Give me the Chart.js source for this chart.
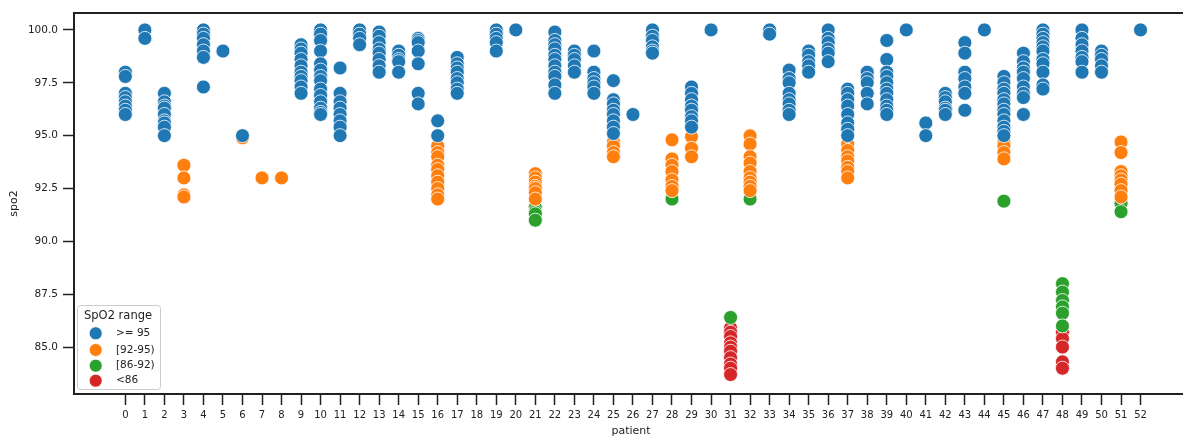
<!DOCTYPE html>
<html>
<head>
<meta charset="utf-8">
<script src="https://cdn.jsdelivr.net/npm/chart.js@4.4.1/dist/chart.umd.min.js"></script>
<style>
  html, body { margin: 0; padding: 0; background: #fff; overflow: hidden; }
  #wrap { width: 1188px; height: 436px; position: relative; }
</style>
</head>
<body>
<div id="wrap"><canvas id="graphique"></canvas></div>
<script>
// tick labels
const patientTicks = [0, 1, 2, 3, 4, 5, 6, 7, 8, 9, 10, 11, 12, 13, 14, 15, 16, 17, 18, 19, 20,
  21, 22, 23, 24, 25, 26, 27, 28, 29, 30, 31, 32, 33, 34, 35, 36, 37, 38, 39, 40, 41, 42, 43,
  44, 45, 46, 47, 48, 49, 50, 51, 52];
const spo2Ticks = [85, 87.5, 90, 92.5, 95, 97.5, 100];

// [patient, spo2 readings] per range
const rangeHigh = [
  [0, [98.0, 97.8, 97.0, 96.8, 96.6, 96.4, 96.2, 96.0]],
  [1, [100.0, 99.6]],
  [2, [97.0, 96.6, 96.4, 96.3, 96.0, 95.7, 95.6, 95.4, 95.0]],
  [4, [100.0, 99.8, 99.6, 99.3, 99.0, 98.7, 97.3]],
  [5, [99.0]],
  [6, [95.0]],
  [9, [99.3, 99.1, 98.9, 98.6, 98.3, 98.0, 97.8, 97.6, 97.3, 97.0]],
  [10, [100.0, 99.8, 99.5, 99.0, 98.4, 98.1, 97.8, 97.6, 97.2, 96.9, 96.6, 96.3, 96.1, 96.0]],
  [11, [98.2, 97.0, 96.6, 96.3, 96.0, 95.7, 95.4, 95.0]],
  [12, [100.0, 99.8, 99.6, 99.3]],
  [13, [99.9, 99.7, 99.4, 99.1, 98.9, 98.6, 98.3, 98.0]],
  [14, [99.0, 98.8, 98.6, 98.5, 98.0]],
  [15, [99.6, 99.5, 99.4, 99.0, 98.4, 97.0, 96.5]],
  [16, [95.7, 95.0]],
  [17, [98.7, 98.4, 98.2, 98.0, 97.7, 97.5, 97.2, 97.0]],
  [19, [100.0, 99.8, 99.6, 99.4, 99.0]],
  [20, [100.0]],
  [22, [99.9, 99.5, 99.3, 99.1, 98.8, 98.6, 98.3, 98.0, 97.8, 97.4, 97.0]],
  [23, [99.0, 98.8, 98.6, 98.3, 98.0]],
  [24, [99.0, 98.0, 97.7, 97.5, 97.3, 97.0]],
  [25, [97.6, 96.7, 96.5, 96.2, 96.0, 95.7, 95.4, 95.1]],
  [26, [96.0]],
  [27, [100.0, 99.7, 99.5, 99.2, 99.0, 98.9]],
  [29, [97.3, 97.0, 96.7, 96.4, 96.2, 95.9, 95.7, 95.4]],
  [30, [100.0]],
  [33, [100.0, 99.8]],
  [34, [98.1, 97.7, 97.5, 97.0, 96.7, 96.5, 96.2, 96.0]],
  [35, [99.0, 98.8, 98.5, 98.3, 98.0]],
  [36, [100.0, 99.6, 99.4, 99.1, 98.9, 98.5]],
  [37, [97.2, 97.0, 96.7, 96.4, 96.0, 95.6, 95.3, 95.0]],
  [38, [98.0, 97.7, 97.5, 97.0, 96.5]],
  [39, [99.5, 98.6, 98.0, 97.8, 97.5, 97.2, 97.0, 96.7, 96.4, 96.2, 96.0]],
  [40, [100.0]],
  [41, [95.6, 95.0]],
  [42, [97.0, 96.8, 96.6, 96.3, 96.2, 96.0]],
  [43, [99.4, 98.9, 98.0, 97.7, 97.3, 97.0, 96.2]],
  [44, [100.0]],
  [45, [97.8, 97.5, 97.2, 97.0, 96.7, 96.5, 96.2, 96.0, 95.7, 95.4, 95.2, 95.0]],
  [46, [98.9, 98.5, 98.2, 98.0, 97.7, 97.3, 97.0, 96.8, 96.0]],
  [47, [100.0, 99.8, 99.6, 99.4, 99.2, 99.0, 98.6, 98.4, 98.0, 97.4, 97.2]],
  [49, [100.0, 99.6, 99.3, 99.0, 98.7, 98.5, 98.0]],
  [50, [99.0, 98.8, 98.6, 98.3, 98.0]],
  [52, [100.0]]
];
const rangeMid = [
  [3, [93.6, 93.0, 92.2, 92.1]],
  [6, [94.9]],
  [7, [93.0]],
  [8, [93.0]],
  [16, [94.5, 94.2, 94.0, 93.6, 93.4, 93.1, 92.8, 92.5, 92.2, 92.0]],
  [21, [93.2, 93.0, 92.8, 92.6, 92.5, 92.3, 92.0]],
  [25, [94.7, 94.5, 94.2, 94.0]],
  [28, [94.8, 93.9, 93.6, 93.3, 92.9, 92.6, 92.4]],
  [29, [94.95, 94.4, 94.0]],
  [32, [94.99, 94.6, 94.0, 93.7, 93.3, 93.0, 92.8, 92.6, 92.4]],
  [37, [94.6, 94.3, 94.0, 93.8, 93.5, 93.3, 93.0]],
  [45, [94.7, 94.5, 94.2, 93.9]],
  [51, [94.7, 94.2, 93.3, 93.1, 92.9, 92.7, 92.4, 92.1]]
];
const rangeLow = [
  [21, [91.6, 91.4, 91.3, 91.0]],
  [28, [92.0]],
  [31, [86.4]],
  [32, [92.0]],
  [45, [91.9]],
  [48, [88.0, 87.6, 87.2, 86.9, 86.6, 86.0]],
  [51, [91.8, 91.4]]
];
const rangeCritical = [
  [31, [85.9, 85.7, 85.5, 85.2, 85.0, 84.8, 84.5, 84.2, 84.0, 83.7]],
  [48, [85.7, 85.4, 85.0, 84.3, 84.0]]
];

const rangeLabels = ['>= 95', '[92-95)', '[86-92)', '<86'];
const rangeColors = ['#1f77b4', '#ff7f0e', '#2ca02c', '#d62728'];

const police = 'DejaVu Sans, sans-serif';
const encre = '#222';

function enPoints(groupes) {
  return groupes.flatMap(([p, vals]) => vals.map(v => ({ x: p, y: v })));
}

// ligne du haut du cadre (Chart.js ne la trace pas)
const cadreHaut = {
  id: 'cadreHaut',
  afterDraw(chart) {
    const { ctx, chartArea } = chart;
    ctx.save();
    ctx.strokeStyle = encre;
    ctx.lineWidth = 2;
    ctx.beginPath();
    ctx.moveTo(chartArea.left - 1, chartArea.top);
    ctx.lineTo(chartArea.right, chartArea.top);
    ctx.stroke();
    ctx.restore();
  }
};

// légende dans le coin bas gauche, façon seaborn
const legendeInterne = {
  id: 'legendeInterne',
  afterDraw(chart) {
    const ctx = chart.ctx;
    ctx.save();
    const x = 77.5, y = 305.5, w = 83, h = 84, r = 3;
    ctx.beginPath();
    ctx.moveTo(x + r, y);
    ctx.arcTo(x + w, y, x + w, y + h, r);
    ctx.arcTo(x + w, y + h, x, y + h, r);
    ctx.arcTo(x, y + h, x, y, r);
    ctx.arcTo(x, y, x + w, y, r);
    ctx.closePath();
    ctx.fillStyle = 'rgba(255,255,255,0.8)';
    ctx.fill();
    ctx.strokeStyle = '#cccccc';
    ctx.lineWidth = 1;
    ctx.stroke();

    ctx.fillStyle = encre;
    ctx.textBaseline = 'middle';
    ctx.font = '11.5px ' + police;
    ctx.fillText('SpO2 range', 84, 316.5);
    ctx.font = '10.5px ' + police;
    const ys = [333.3, 350, 365.7, 380.7];
    rangeLabels.forEach((lab, i) => {
      ctx.beginPath();
      ctx.arc(95.7, ys[i], 6.5, 0, Math.PI * 2);
      ctx.fillStyle = rangeColors[i];
      ctx.fill();
      ctx.strokeStyle = '#fff';
      ctx.lineWidth = 0.8;
      ctx.stroke();
      ctx.fillStyle = encre;
      ctx.fillText(lab, 116, ys[i]);
    });
    ctx.restore();
  }
};

const series = [rangeHigh, rangeMid, rangeLow, rangeCritical];

const chart = new Chart(document.getElementById('graphique').getContext('2d'), {
  type: 'scatter',
  data: {
    datasets: series.map((s, i) => ({
      label: rangeLabels[i],
      data: enPoints(s),
      backgroundColor: rangeColors[i],
      borderColor: '#ffffff',
      borderWidth: 0.8,
      pointRadius: 7,
      pointHoverRadius: 7
    }))
  },
  options: {
    responsive: true,
    maintainAspectRatio: false,
    animation: false,
    devicePixelRatio: 1,
    events: [],
    layout: { autoPadding: false, padding: { top: 13, left: 0, right: 0, bottom: 0 } },
    plugins: {
      legend: { display: false },
      tooltip: { enabled: false }
    },
    scales: {
      x: {
        type: 'linear',
        min: -2.63,
        max: 54.43,
        afterBuildTicks: s => { s.ticks = patientTicks.map(v => ({ value: v })); },
        afterFit: s => { s.height = 42; },
        ticks: {
          autoSkip: false,
          maxRotation: 0,
          padding: 4,
          color: encre,
          font: { family: police, size: 10 }
        },
        grid: { drawOnChartArea: false, tickLength: 11, tickColor: encre, tickWidth: 1.5 },
        border: { color: encre, width: 2 },
        title: {
          display: true,
          text: 'patient',
          color: encre,
          font: { family: police, size: 11 },
          padding: { top: 0, bottom: -2 }
        }
      },
      y: {
        type: 'linear',
        min: 82.78,
        max: 100.8,
        afterBuildTicks: s => { s.ticks = spo2Ticks.map(v => ({ value: v })); },
        afterFit: s => { s.width = 74; },
        ticks: {
          padding: 5,
          color: encre,
          callback: v => Number(v).toFixed(1),
          font: { family: police, size: 10.5 }
        },
        grid: { drawOnChartArea: false, tickLength: 11, tickColor: encre, tickWidth: 1.5 },
        border: { color: encre, width: 2 },
        title: {
          display: true,
          text: 'spo2',
          color: encre,
          font: { family: police, size: 11 },
          padding: { top: 8, bottom: 0 }
        }
      }
    }
  },
  plugins: [cadreHaut, legendeInterne]
});
</script>
</body>
</html>
